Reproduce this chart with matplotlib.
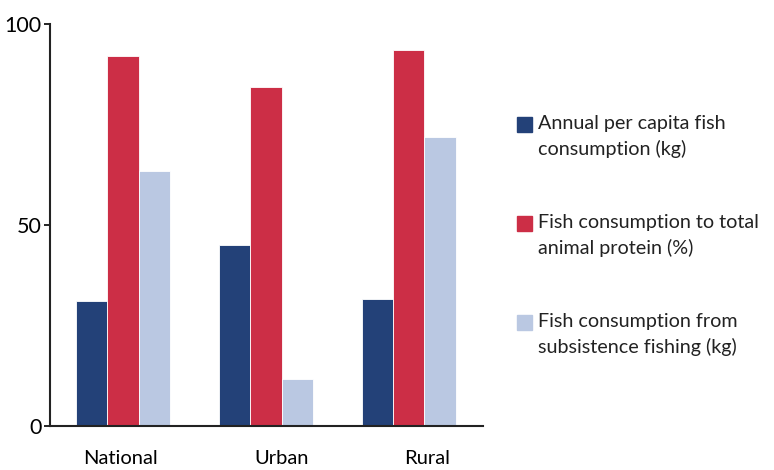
import numpy as np
import matplotlib
matplotlib.use('Agg')
from matplotlib import pyplot as plt
from matplotlib.patches import Rectangle

plt.rcParams['font.family'] = ['Lato', 'DejaVu Sans']

categories = ['National', 'Urban', 'Rural']
per_capita_kg = [31, 45, 31.5]
share_animal_protein = [92, 84.3, 93.5]
subsistence_kg = [63.5, 11.7, 72]

series_names = ['Annual per capita fish\nconsumption (kg)',
                'Fish consumption to total\nanimal protein (%)',
                'Fish consumption from\nsubsistence fishing (kg)']
colors = ['#234178', '#CC2E46', '#BAC8E2']

fig = plt.figure(figsize=(7.74, 4.70), dpi=100)
ax = fig.add_axes([50 / 774, 1 - 426 / 470, 433 / 774, 402 / 470])

x = np.arange(len(categories))
w = 0.22
for i, vals in enumerate([per_capita_kg, share_animal_protein, subsistence_kg]):
    ax.bar(x + (i - 1) * w, vals, width=w, color=colors[i],
           edgecolor='white', linewidth=0.6)

ax.set_xlim(-0.51, 2.52)
ax.set_ylim(0, 100)
ax.set_yticks([0, 50, 100])
ax.tick_params(axis='y', length=4, width=1.2, pad=2, labelsize=15.5)
# labels sit a bit off the group centres in the original
ax.set_xticks(x + np.array([-0.02, 0.11, 0.13]))
ax.set_xticklabels(categories)
ax.tick_params(axis='x', length=0, pad=17, labelsize=14.5)
for s in ['top', 'right']:
    ax.spines[s].set_visible(False)
for s in ['left', 'bottom']:
    ax.spines[s].set_linewidth(1.5)
    ax.spines[s].set_color('#222222')

# legend by hand so the swatch lines up with the first text line
for i, name in enumerate(series_names):
    ytop = 117 + i * 99
    fig.patches.append(Rectangle((517 / 774, 1 - (ytop + 15) / 470), 15 / 774, 15 / 470,
                                 transform=fig.transFigure, color=colors[i]))
    fig.text(538 / 774, 1 - (ytop - 2) / 470, name, fontsize=14.2, va='top',
             ha='left', linespacing=1.5, color='#222222')

fig.savefig('out.png', dpi=100)
